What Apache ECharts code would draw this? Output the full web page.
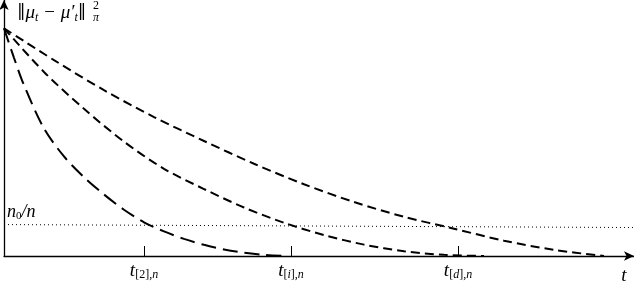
<!DOCTYPE html>
<html>
<head>
<meta charset="utf-8">
<script src="https://cdn.jsdelivr.net/npm/echarts@6/dist/echarts.min.js"></script>
<style>html,body{margin:0;padding:0;background:#fff}#c{width:634px;height:284px}</style>
</head>
<body>
<div id="c"></div>
<script>
// Curve 1 (fastest decay, long dashes) : [t, value]
var curveFast = [[0,1.00],[1,0.87],[2,0.75],[4,0.56],[6,0.437],[8,0.346],[10,0.27],[12,0.203],[14,0.148],[16,0.108],[18,0.075],[20,0.049],[22,0.029],[24,0.014],[26,0.005],[28,0]];
// Curve 2 (middle)
var curveMid = [[0,1.00],[4,0.808],[8,0.646],[12,0.502],[16,0.383],[20,0.294],[24,0.213],[28,0.146],[32,0.092],[36,0.050],[40,0.021],[44,0.005],[48,0]];
// Curve 3 (slowest)
var curveSlow = [[0,1.00],[5,0.86],[10,0.728],[15,0.610],[20,0.505],[25,0.405],[30,0.315],[35,0.237],[40,0.172],[45,0.12],[50,0.067],[55,0.027],[60,0]];
// Threshold n0/n (dotted)
var threshold = [[0,0.138],[63,0.125]];
// Tick positions and labels (index inside brackets; italic flag)
var tickValues = [14.0, 28.7, 45.4];
var tickIdx = ['2', 'i', 'd'];
var tickItalic = [false, true, true];

var serif = '"Liberation Serif","DejaVu Serif",serif';
var chart = echarts.init(document.getElementById('c'), null, {renderer:'canvas'});
var lineStyleBase = {color:'#000', width:2};
chart.setOption({
  animation:false,
  grid:{left:4, right:0, top:0, bottom:28, outerBoundsMode:'none'},
  xAxis:{
    type:'value', min:0, max:63,
    splitLine:{show:false},
    axisLine:{show:true, symbol:['none','arrow'], symbolSize:[7,10], lineStyle:{color:'#000', width:1.3}},
    axisTick:{show:true, inside:true, length:10, customValues:tickValues, lineStyle:{color:'#000', width:1}},
    axisLabel:{
      show:true, margin:5, customValues:tickValues,
      formatter:function(v){
        var i = tickValues.indexOf(v);
        if (i < 0) return '';
        return '{t|t}{s|[}{' + (tickItalic[i] ? 'n' : 's') + '|' + tickIdx[i] + '}{s|],}{n|n}';
      },
      rich:{
        t:{fontFamily:serif, fontStyle:'italic', fontSize:19, lineHeight:20, verticalAlign:'top', color:'#000'},
        s:{fontFamily:serif, fontSize:12, lineHeight:14, verticalAlign:'bottom', color:'#000'},
        n:{fontFamily:serif, fontStyle:'italic', fontSize:12, lineHeight:14, verticalAlign:'bottom', color:'#000'}
      }
    },
    name:'t', nameLocation:'end', nameGap:-10,
    nameTextStyle:{fontFamily:serif, fontStyle:'italic', fontSize:19, color:'#000', align:'center', verticalAlign:'top', padding:[10,0,0,0]}
  },
  yAxis:{
    type:'value', min:0, max:1.124,
    splitLine:{show:false},
    axisLine:{show:true, symbol:['none','arrow'], symbolSize:[7,10], lineStyle:{color:'#000', width:1.3}},
    axisTick:{show:false}, axisLabel:{show:false}
  },
  series:[
    {type:'line', data:curveFast, showSymbol:false, smooth:0.3, lineStyle:Object.assign({}, lineStyleBase, {type:[15,7]})},
    {type:'line', data:curveMid, showSymbol:false, smooth:0.3, lineStyle:Object.assign({}, lineStyleBase, {type:[9,5]})},
    {type:'line', data:curveSlow, showSymbol:false, smooth:0.3, lineStyle:Object.assign({}, lineStyleBase, {type:[9,5]})},
    {type:'line', data:threshold, showSymbol:false, lineStyle:{color:'#000', width:1, type:[1,3]}}
  ],
  graphic:[
    {type:'text', left:17, top:3, style:{
      text:'{b|‖}{a|μ}{s|t}{a| − μ′}{s|t}{b|‖}',
      rich:{
        a:{fontFamily:serif, fontStyle:'italic', fontSize:19, lineHeight:21, verticalAlign:'top', fill:'#000'},
        b:{fontFamily:'"DejaVu Serif",serif', fontSize:17, lineHeight:21, verticalAlign:'top', fill:'#000'},
        s:{fontFamily:serif, fontStyle:'italic', fontSize:12, lineHeight:14, verticalAlign:'bottom', fill:'#000'}
      }}},
    {type:'text', left:93, top:0, style:{text:'2', font:'12px ' + serif, fill:'#000'}},
    {type:'text', left:93, top:12, style:{text:'π', font:'italic 12px ' + serif, fill:'#000'}},
    {type:'text', left:7, top:203, style:{
      text:'{a|n}{s|0}{a|/n}',
      rich:{
        a:{fontFamily:serif, fontStyle:'italic', fontSize:18, lineHeight:19, verticalAlign:'top', fill:'#000'},
        s:{fontFamily:serif, fontSize:11, lineHeight:12, verticalAlign:'bottom', fill:'#000'}
      }}}
  ]
});
</script>
</body>
</html>
